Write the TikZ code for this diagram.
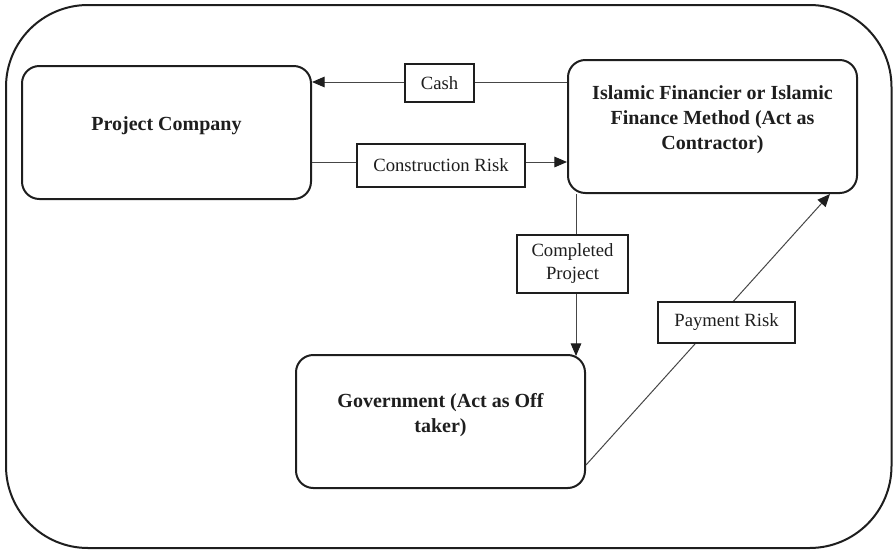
\documentclass[tikz,border=0pt]{standalone}
\usepackage{fontspec}
\setmainfont{Liberation Serif}
\usetikzlibrary{arrows.meta}

\definecolor{inkdark}{RGB}{30,30,30}
\definecolor{inkgrey}{RGB}{70,70,70}

\tikzset{every picture/.style={line width=0.75pt}}
\tikzset{
	partybox/.style={draw=inkdark, line width=1.5pt, rounded corners=13pt, minimum width=216.75pt, minimum height=99.75pt, inner sep=0pt},
	partytext/.style={align=center, text=inkdark, font=\fontsize{15}{18.75}\selectfont\bfseries},
	flowbox/.style={draw=inkdark, line width=1.1pt, fill=white, align=center, inner sep=0pt, text=inkdark, font=\fontsize{14}{17.25}\selectfont},
	flowline/.style={draw=inkgrey, line width=0.75pt, -{Triangle[length=9.5pt,width=8pt,color=inkdark]}},
}

\begin{document}
\begin{tikzpicture}[x=0.75pt,y=0.75pt,yscale=-1,xscale=1]
	\useasboundingbox (0,0) rectangle (893,550);

	%Shape: Rounded Rect [id:frame]
	\draw [inkdark, line width=1.5pt, rounded corners=61.5pt] (6,5) rectangle (891.5,548);

	%Shape: Rounded Rect [id:parties]
	\node [partybox] (pc) at (166.5,132.5) {};
	\node [partybox] (isl) at (712.5,126.5) {};
	\node [partybox] (gov) at (440.5,421.5) {};

	% Text Node
	\node [partytext] (pctext) at (166.5,126) {Project Company};
	% Text Node
	\node [partytext] (isltext) at (712.5,120) {Islamic Financier or Islamic\\Finance Method (Act as\\Contractor)};
	% Text Node
	\node [partytext] (govtext) at (440.5,415.5) {Government (Act as Off\\taker)};

	%rows and columns of the connectors
	\coordinate (cashrow) at (0,82);
	\coordinate (riskrow) at (0,162);
	\coordinate (handcol) at (576,0);
	\coordinate (payrow) at (0,465);
	\coordinate (paycol) at (830,0);

	%Straight Lines [id:cash]
	\draw [flowline] (isl.west |- cashrow) -- (pc.east |- cashrow);
	%Straight Lines [id:construction]
	\draw [flowline] (pc.east |- riskrow) -- (isl.west |- riskrow);
	%Straight Lines [id:completed]
	\draw [flowline, shorten >=-1.5pt] (isl.south -| handcol) -- (gov.north -| handcol);
	%Straight Lines [id:payment]
	\draw [flowline] (gov.east |- payrow) -- (isl.south -| paycol);

	% Text Node
	\node [flowbox, minimum width=51.75pt, minimum height=28.5pt] (cash) at (439.5,83) {Cash};
	% Text Node
	\node [flowbox, minimum width=126pt, minimum height=32.25pt] (conrisk) at (441,165.5) {Construction Risk};
	% Text Node
	\node [flowbox, minimum width=83.25pt, minimum height=43.5pt] (done) at (572.5,264) {Completed\\Project};
	% Text Node
	\node [flowbox, minimum width=102.75pt, minimum height=30.75pt] (payrisk) at (726.5,322.5) {Payment Risk};

\end{tikzpicture}
\end{document}
